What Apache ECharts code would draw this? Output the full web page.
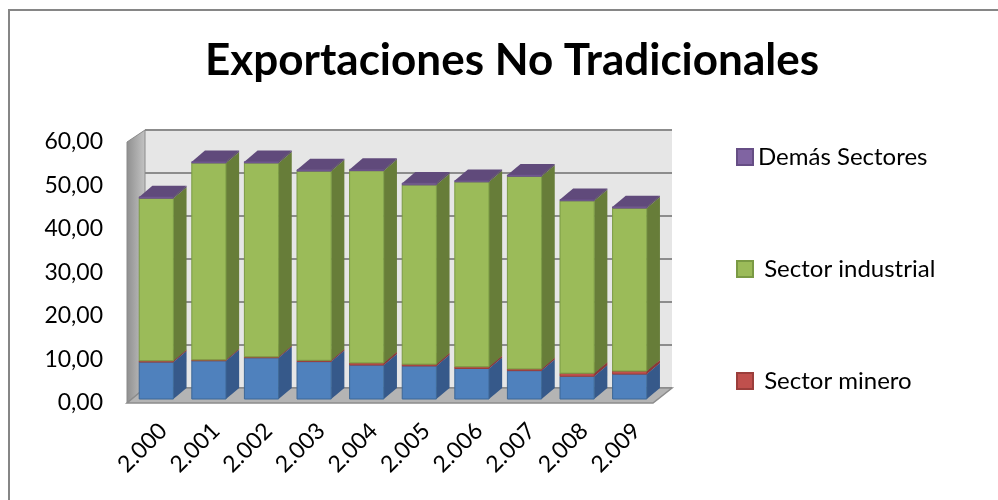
<!DOCTYPE html>
<html>
<head>
<meta charset="utf-8">
<script src="https://cdn.jsdelivr.net/npm/echarts@6/dist/echarts.min.js"></script>
<style>
  html, body { margin: 0; padding: 0; background: #fff; }
  #chart { width: 998px; height: 500px; }
</style>
</head>
<body>
<div id="chart"></div>
<script>
// años (etiquetas del eje de categorías)
const years = ['2.000', '2.001', '2.002', '2.003', '2.004', '2.005', '2.006', '2.007', '2.008', '2.009']
// valores, de abajo hacia arriba
const agropecuario = [8.6, 8.9, 9.6, 8.7, 7.9, 7.7, 7.1, 6.6, 5.3, 5.8]
const minero = [0.3, 0.2, 0.2, 0.3, 0.5, 0.4, 0.4, 0.4, 0.7, 0.7]
const industrial = [37.8, 45.8, 45.1, 44.0, 44.7, 41.7, 43.0, 44.8, 40.1, 37.9]
const demas = [0.3, 0.3, 0.3, 0.3, 0.3, 0.4, 0.3, 0.3, 0.3, 0.3]
const yTicks = { min: 0, max: 60, interval: 10 }

const FONT = 'Lato'

// colores: frente, lateral, tapa
const stacks = [
    { name: 'Sector agropecuario', values: agropecuario, front: '#4f81bd', side: '#36598a', top: '#4674ab', line: '#3d6796' },
    { name: 'Sector minero', values: minero, front: '#c0504d', side: '#8c3836', top: '#a94542', line: '#9b3e3b' },
    { name: 'Sector industrial', values: industrial, front: '#9bbb59', side: '#677d39', top: '#88a64c', line: '#7a9a44' },
    { name: 'Demás Sectores', values: demas, front: '#8064a2', side: '#5b4676', top: '#604a7b', line: '#664e85' }
]

/* barra 3D: cara frontal, lateral y tapa
 * value = [categoria, base, tope]
 */
function makeRender (s) {
    return function (params, api) {
        const lo = api.coord([api.value(0), api.value(1)])
        const hi = api.coord([api.value(0), api.value(2)])
        const band = api.size([1, 0])[0]
        const w = band * 0.65
        const dx = band * 0.25
        const dy = -band * 0.21
        const left = lo[0] - w / 2
        const right = left + w
        const bottom = lo[1]
        const top = hi[1]
        return {
            type: 'group',
            children: [
                {
                    type: 'polygon',
                    shape: { points: [[right, bottom], [right + dx, bottom + dy], [right + dx, top + dy], [right, top]] },
                    style: { fill: s.side }
                },
                {
                    type: 'polygon',
                    shape: { points: [[left, top], [right, top], [right + dx, top + dy], [left + dx, top + dy]] },
                    style: { fill: s.top }
                },
                {
                    type: 'rect',
                    shape: { x: left, y: top, width: w, height: bottom - top },
                    style: { fill: s.front, stroke: s.line, lineWidth: 1 }
                }
            ]
        }
    }
}

const series = []
const base = years.map(() => 0)
stacks.forEach(function (s) {
    const data = years.map(function (y, i) {
        const item = [i, base[i], base[i] + s.values[i]]
        base[i] += s.values[i]
        return item
    })
    series.push({
        name: s.name,
        type: 'custom',
        xAxisIndex: 3,
        yAxisIndex: 3,
        itemStyle: { color: s.front, borderColor: s.line, borderWidth: 1 },
        renderItem: makeRender(s),
        data: data
    })
})

const chart = echarts.init(document.getElementById('chart'))
const option = {
    backgroundColor: '#ffffff',
    animation: false,
    textStyle: { fontFamily: FONT },
    title: {
        text: 'Exportaciones No Tradicionales',
        left: 507,
        top: 34,
        textAlign: 'center',
        textStyle: { fontFamily: FONT, fontSize: 44, fontWeight: 'bold', color: '#000' }
    },
    legend: {
        data: ['Demás Sectores', 'Sector industrial', 'Sector minero'],
        orient: 'vertical',
        left: 731,
        top: 140,
        icon: 'rect',
        itemWidth: 16,
        itemHeight: 16,
        itemGap: 88,
        formatter: function (name) {
            return name === 'Demás Sectores' ? name : ' ' + name
        },
        textStyle: { fontFamily: FONT, fontSize: 24, color: '#000', lineHeight: 24 }
    },
    grid: [
        // pared del fondo
        { left: 145, right: 326, top: 130, bottom: 112, show: true, backgroundColor: '#e6e6e6', borderWidth: 0 },
        // eje de valores
        { left: 127, right: 345, top: 142, bottom: 97 },
        // etiquetas de años
        { left: 137, right: 335, top: 142, bottom: 97 },
        // barras
        { left: 130, right: 342, top: 141, bottom: 101 }
    ],
    xAxis: [
        { gridIndex: 0, type: 'category', data: years, show: false },
        { gridIndex: 1, type: 'category', data: years, show: false },
        {
            gridIndex: 2,
            type: 'category',
            data: years,
            axisLine: { show: false },
            axisTick: { show: false },
            axisLabel: { rotate: 45, margin: 24, interval: 0, fontFamily: FONT, fontSize: 23, color: '#000' }
        },
        { gridIndex: 3, type: 'category', data: years, show: false }
    ],
    yAxis: [
        {
            gridIndex: 0, type: 'value', min: yTicks.min, max: yTicks.max, interval: yTicks.interval,
            axisLabel: { show: false },
            axisLine: { show: false },
            axisTick: { show: false },
            splitLine: { lineStyle: { color: '#8c8c8c', width: 2 } }
        },
        {
            gridIndex: 1, type: 'value', min: yTicks.min, max: yTicks.max, interval: yTicks.interval,
            axisLine: { show: false },
            axisTick: { show: false },
            splitLine: { show: false },
            axisLabel: {
                margin: 24,
                fontFamily: FONT,
                fontSize: 23,
                color: '#000',
                formatter: function (v) { return v.toFixed(2).replace('.', ',') }
            }
        },
        { gridIndex: 2, type: 'value', show: false, min: yTicks.min, max: yTicks.max },
        { gridIndex: 3, type: 'value', show: false, min: yTicks.min, max: yTicks.max, splitLine: { show: false } }
    ],
    graphic: [
        // borde exterior del gráfico
        {
            type: 'rect', z: 1,
            shape: { x: 9, y: 10, width: 1000, height: 510 },
            style: { fill: 'none', stroke: '#868686', lineWidth: 2 }
        },
        // pared lateral izquierda
        {
            type: 'polygon', z: 1,
            shape: { points: [[127, 142], [145, 130], [145, 388], [127, 403]] },
            style: {
                fill: new echarts.graphic.LinearGradient(0, 0, 1, 0, [
                    { offset: 0, color: '#8f8f8f' },
                    { offset: 1, color: '#c4c4c4' }
                ]),
                stroke: '#8a8a8a', lineWidth: 1
            }
        },
        // piso
        {
            type: 'polygon', z: 1,
            shape: { points: [[127, 403], [653, 403], [672, 388], [145, 388]] },
            style: { fill: '#b4b4b4', stroke: '#8c8c8c', lineWidth: 1.5 }
        }
    ],
    series: series
}
chart.setOption(option)
</script>
</body>
</html>
